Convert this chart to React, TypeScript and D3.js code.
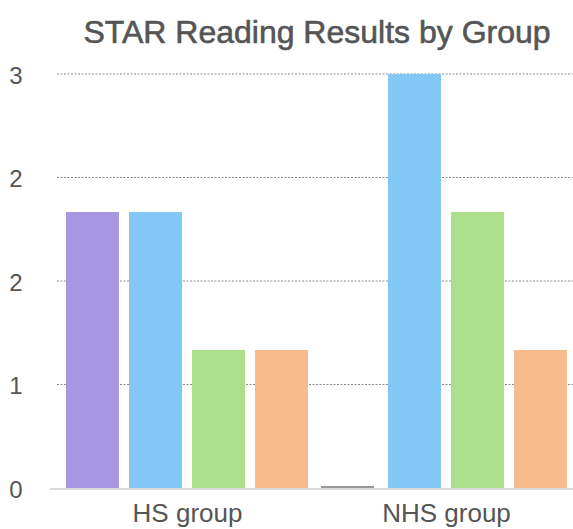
import React from "react";
import * as d3 from "d3";

const groups = ["HS group", "NHS group"];
const series = ["s1", "s2", "s3", "s4"];
const values: number[][] = [
  [2, 2, 1, 1],
  [0, 3, 2, 1],
];
const colors = ["#a797e2", "#82c7f6", "#abdf8c", "#f8bb8b"];
const tickValues = [0, 0.75, 1.5, 2.25, 3];
const tickLabels = ["0", "1", "2", "2", "3"];
const title = "STAR Reading Results by Group";

export default function App() {
  const W = 573, H = 529;
  const x0 = d3.scaleBand<string>().domain(groups).range([56, 574]).paddingInner(0).paddingOuter(0);
  const x1 = d3.scaleBand<string>().domain(series).range([10, 252]).paddingInner(0.159).paddingOuter(0);
  const y = d3.scaleLinear().domain([0, 3]).range([488, 74]);
  const font = "'Liberation Sans', Arial, Helvetica, sans-serif";
  return (
    <svg width={W} height={H} style={{ position: "absolute", left: 0, top: 0, background: "#fff" }}>
      <text x={317} y={43} textAnchor="middle" fontFamily={font} fontSize={32} fill="#555" stroke="#555" strokeWidth={0.6}>{title}</text>
      {tickValues.map((t, i) => (
        <g key={i}>
          {t !== 0 && (
            <line x1={57} x2={573} y1={y(t)} y2={y(t)} stroke="#8a8a8a" strokeWidth={1} strokeDasharray="2,1.5" />
          )}
          <text x={16} y={y(t) + 1} dy="0.36em" textAnchor="middle" fontFamily={font} fontSize={24} fill="#555">{tickLabels[i]}</text>
        </g>
      ))}
      {groups.map((g, gi) => (
        <g key={g} transform={`translate(${x0(g)},0)`}>
          {series.map((s, si) => {
            const v = values[gi][si];
            if (v === 0) {
              return <line key={s} x1={x1(s)! - 4} x2={x1(s)! + x1.bandwidth() - 4} y1={y(0) - 1} y2={y(0) - 1} stroke="#777" strokeWidth={1.5} />;
            }
            return <rect key={s} x={x1(s)} y={y(v)} width={x1.bandwidth()} height={y(0) - y(v)} fill={colors[si]} />;
          })}
        </g>
      ))}
      <line x1={50} x2={573} y1={y(0) + 1} y2={y(0) + 1} stroke="#b0b0b0" strokeWidth={1} />
      {groups.map((g) => (
        <text key={g} x={x0(g)! + x0.bandwidth() / 2 + 2} y={522} textAnchor="middle" fontFamily={font} fontSize={26} fill="#555">{g}</text>
      ))}
    </svg>
  );
}
